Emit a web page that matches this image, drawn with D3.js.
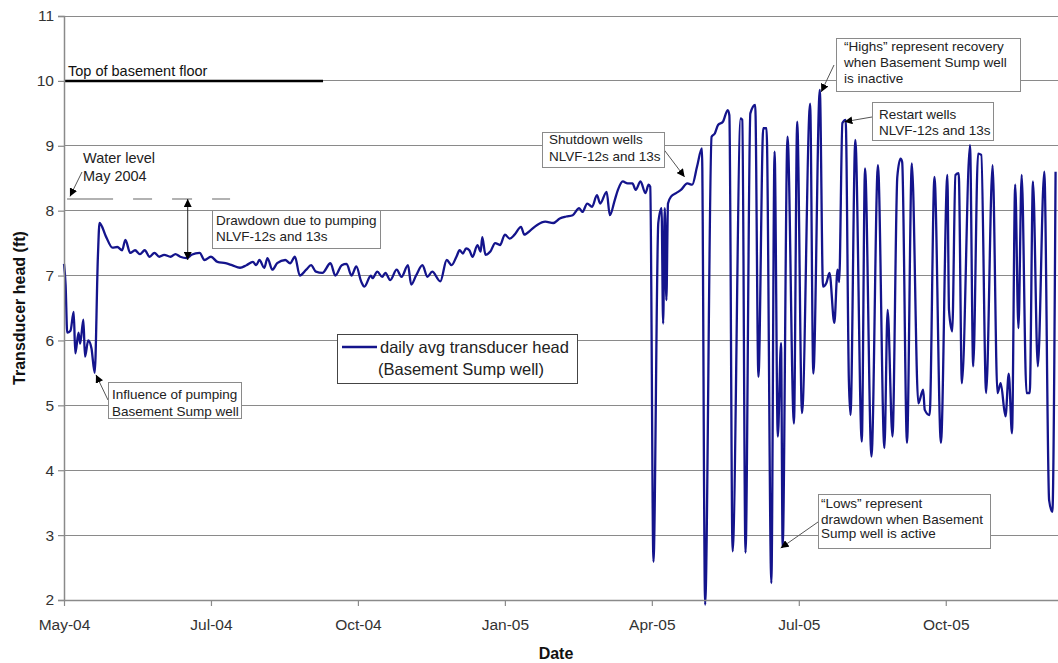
<!DOCTYPE html>
<html><head><meta charset="utf-8">
<script src="https://cdn.jsdelivr.net/npm/d3@7"></script>
<style>
body{margin:0;background:#fff}
svg{display:block;font-family:"Liberation Sans",Arial,sans-serif}
</style>
</head><body>
<svg id="chart" width="1058" height="663"></svg>
<script>
// ---------- data ----------
const startDate = "2004-05-01";           // day 0
const dayOffsets = [
  0,1,2,4,6,7,9,10,12,13,15,17,19,21,22,26,30,33,36,38,41,44,47,50,53,56,59,62,66,69,72,76,79,84,87,91,95,
  100,104,109,113,117,119,121,124,126,129,132,137,140,143,146,150,153,156,160,165,168,172,175,178,181,184,186,
  190,191,194,197,199,202,206,209,213,215,218,222,225,228,233,237,240,243,245,247,249,251,253,256,258,259,261,
  264,267,270,273,276,279,283,285,289,293,298,303,307,311,315,319,321,324,327,330,332,336,338,341,343,346,349,
  352,354,357,360,362,363,365,368,370,371,372,373,374,376,379,382,386,389,392,395,397,401,403,405,408,411,412,
  414,419,420,422,425,428,430,433,435,438,440,442,444,445,448,452,454,457,462,464,468,470,472,474,477,479,480,
  482,484,486,487,490,494,496,500,504,508,510,513,516,518,519,522,525,529,532,533,536,539,543,547,548,550,552,
  554,556,561,563,566,568,571,575,578,580,583,585,587,589,591,593,596,598,600,603,607,610,612,614
];
const headFt = [
  7.18,6.85,6.12,6.15,6.44,5.80,6.12,5.95,6.32,5.75,6.00,5.88,5.50,7.30,7.81,7.60,7.43,7.44,7.39,7.55,7.35,7.39,7.33,7.39,7.29,7.35,7.29,7.32,7.29,7.33,7.29,7.27,7.32,7.35,7.24,7.29,7.21,
  7.19,7.16,7.12,7.16,7.21,7.16,7.24,7.12,7.27,7.09,7.19,7.24,7.19,7.29,7.00,7.09,7.16,7.06,7.04,7.19,7.00,7.16,7.18,7.00,7.14,6.91,6.83,
  7.00,6.96,7.06,6.98,7.04,6.93,7.09,6.98,7.16,6.86,7.00,7.16,6.98,7.06,6.91,7.24,7.16,7.29,7.39,7.34,7.42,7.39,7.29,7.47,7.37,7.59,7.32,
  7.37,7.50,7.47,7.63,7.57,7.63,7.75,7.63,7.70,7.78,7.83,7.81,7.88,7.91,7.93,8.04,7.98,8.11,8.06,8.24,8.11,8.29,7.93,8.16,8.32,8.45,8.42,
  8.42,8.32,8.45,8.27,8.40,8.37,2.59,7.81,8.04,6.26,8.04,6.62,8.11,8.22,8.27,8.32,8.42,8.40,8.68,8.96,1.93,9.14,9.19,9.32,9.37,9.55,9.47,
  2.75,9.42,9.40,2.73,9.50,9.63,5.44,9.27,9.27,2.26,8.91,4.52,5.96,2.82,9.14,4.72,9.37,4.88,9.65,5.49,9.86,6.83,6.88,7.04,6.27,7.09,6.90,
  9.35,9.40,5.39,4.85,9.09,4.44,8.65,4.21,8.70,4.34,6.47,4.52,8.52,8.80,8.75,4.42,8.73,5.03,5.24,4.93,4.85,8.52,4.42,8.55,6.47,6.14,8.55,
  8.58,5.34,9.01,5.60,8.88,8.86,5.19,8.70,5.19,5.34,4.83,5.49,4.57,8.40,6.19,8.55,5.19,5.19,8.45,5.60,8.60,3.54,3.36,8.60
];
const xTickDays = [0, 91, 182, 273, 364, 455, 546];
const yTicks = [2, 3, 4, 5, 6, 7, 8, 9, 10, 11];
const axisEndDay = 615.5;
const basementFloorFt = 10, basementLineDays = [0, 160.4];
const waterLevelFt = 8.18, waterLineDays = [1.9, 103];
const drawdownDay = 76.6, drawdownLowFt = 7.24;
const seriesName = ["daily avg transducer head", "(Basement Sump well)"];

// ---------- setup ----------
const W = 1058, H = 663;
const M = {left: 64, top: 16, right: 0, bottom: 63};
const svg = d3.select("#chart");
const t0 = d3.utcParse("%Y-%m-%d")(startDate);
const dayToDate = d => new Date(t0.getTime() + d * 864e5);

const x = d3.scaleUtc().domain([t0, dayToDate(axisEndDay)]).range([M.left, W - M.right]);
const y = d3.scaleLinear().domain([2, 11]).range([H - M.bottom, M.top]);
const X = d => x(dayToDate(d));

const GRID = "#8a8a8a", NAVY = "#14148c", TXT = "#333";

// arrowhead marker
const defs = svg.append("defs");
defs.append("marker").attr("id", "ah").attr("viewBox", "0 0 10 10")
  .attr("refX", 10).attr("refY", 5).attr("markerWidth", 8).attr("markerHeight", 8)
  .attr("markerUnits", "userSpaceOnUse").attr("orient", "auto-start-reverse")
  .append("path").attr("d", "M0,0 L10,5 L0,10 Z").attr("fill", "#000");

// gridlines
svg.append("g").selectAll("line").data(yTicks.filter(v => v > 2)).join("line")
  .attr("x1", M.left).attr("x2", W).attr("y1", d => y(d)).attr("y2", d => y(d))
  .attr("stroke", GRID).attr("stroke-width", 1).attr("shape-rendering", "crispEdges");

// water level dashed line
svg.append("line")
  .attr("x1", X(waterLineDays[0])).attr("x2", X(waterLineDays[1]))
  .attr("y1", y(waterLevelFt)).attr("y2", y(waterLevelFt))
  .attr("stroke", "#999").attr("stroke-width", 1.3)
  .attr("stroke-dasharray", "46,20,19,20,20,20,18");

// top of basement floor
svg.append("line")
  .attr("x1", X(basementLineDays[0])).attr("x2", X(basementLineDays[1]))
  .attr("y1", y(basementFloorFt)).attr("y2", y(basementFloorFt))
  .attr("stroke", "#000").attr("stroke-width", 2.5);
svg.append("text").attr("x", 68).attr("y", 76).attr("font-size", 14.5).attr("fill", "#111")
  .text("Top of basement floor");

// data line
const pts = dayOffsets.map((d, i) => [d, headFt[i]]);
svg.append("path").datum(pts)
  .attr("fill", "none").attr("stroke", NAVY).attr("stroke-width", 2.3).attr("stroke-linejoin", "round")
  .attr("d", d3.line().curve(d3.curveMonotoneX).x(p => X(p[0])).y(p => y(p[1])));

// axes
const yAxis = svg.append("g").attr("transform", `translate(${M.left},0)`)
  .call(d3.axisLeft(y).tickValues(yTicks).tickSize(6).tickPadding(4).tickFormat(d3.format("d")));
const xAxis = svg.append("g").attr("transform", `translate(0,${y(2)})`)
  .call(d3.axisBottom(x).tickValues(xTickDays.map(dayToDate)).tickSize(6).tickPadding(13)
    .tickFormat(d3.utcFormat("%b-%y")));
xAxis.select(".domain").attr("d", `M${M.left},0.5H${W}`);
[yAxis, xAxis].forEach(g => {
  g.select(".domain").attr("stroke", GRID).attr("stroke-width", 1.5);
  g.selectAll(".tick line").attr("stroke", GRID).attr("stroke-width", 1.2);
  g.selectAll("text").attr("fill", TXT).attr("font-size", 15.5)
    .attr("font-family", '"Liberation Sans",Arial,sans-serif');
});

// axis titles
svg.append("text").attr("x", (M.left + W) / 2 - 5).attr("y", 659).attr("text-anchor", "middle")
  .attr("font-weight", "bold").attr("font-size", 16).attr("fill", "#111").text("Date");
svg.append("text").attr("transform", "translate(25,308) rotate(-90)").attr("text-anchor", "middle")
  .attr("font-weight", "bold").attr("font-size", 16).attr("fill", "#111").text("Transducer head (ft)");

// drawdown double arrow
svg.append("line").attr("x1", X(drawdownDay)).attr("x2", X(drawdownDay))
  .attr("y1", y(waterLevelFt)).attr("y2", y(drawdownLowFt))
  .attr("stroke", "#222").attr("stroke-width", 1)
  .attr("marker-start", "url(#ah)").attr("marker-end", "url(#ah)");

// annotation helpers
function arrow(x1, y1, x2, y2) {
  svg.append("line").attr("x1", x1).attr("y1", y1).attr("x2", x2).attr("y2", y2)
    .attr("stroke", "#555").attr("stroke-width", 1).attr("marker-end", "url(#ah)");
}
function box(x0, y0, w, h, lines, tx, baselines, fs) {
  svg.append("rect").attr("x", x0 + 0.5).attr("y", y0 + 0.5).attr("width", w).attr("height", h)
    .attr("fill", "#fff").attr("stroke", "#8a8a8a").attr("stroke-width", 1);
  lines.forEach((t, i) => svg.append("text").attr("x", tx).attr("y", baselines[i])
    .attr("font-size", fs || 13.5).attr("fill", "#222").text(t));
}

// Water level label
svg.append("text").attr("x", 83).attr("y", 163).attr("font-size", 14.5).attr("fill", "#222").text("Water level");
svg.append("text").attr("x", 83).attr("y", 181).attr("font-size", 14.5).attr("fill", "#222").text("May 2004");
arrow(82, 172, X(3.7), y(8.22));

// Drawdown box
box(212, 210, 168, 38, ["Drawdown due to pumping", "NLVF-12s and 13s"], 216, [225, 241]);

// Influence box
arrow(108, 400, X(19.8), y(5.47));
box(108, 382, 133, 36, ["Influence of pumping", "Basement Sump well"], 112, [399, 416]);

// Shutdown box
arrow(662, 147, X(384.3), y(8.52));
box(542, 132, 122, 35, ["Shutdown wells", "NLVF-12s and 13s"], 549, [144, 161]);

// Highs box
arrow(834, 65, X(468.9), y(9.83));
box(836, 38, 184, 53, ["\u201cHighs\u201d represent recovery", "when Basement Sump well", "is inactive"], 844, [51, 67, 83]);

// Restart box
arrow(872, 117, X(483.2), y(9.37));
box(872, 102, 121, 38, ["Restart wells", "NLVF-12s and 13s"], 879, [119, 135]);

// Lows box
arrow(818, 522, X(443.8), y(2.8));
box(818, 494, 172, 54, ["\u201cLows\u201d represent", "drawdown when Basement", "Sump well is active"], 821, [508, 524, 538]);

// legend
svg.append("rect").attr("x", 337.5).attr("y", 334.5).attr("width", 240).attr("height", 49)
  .attr("fill", "#fff").attr("stroke", "#444").attr("stroke-width", 1);
svg.append("line").attr("x1", 342).attr("x2", 377).attr("y1", 347).attr("y2", 347)
  .attr("stroke", NAVY).attr("stroke-width", 2.3);
svg.append("text").attr("x", 380).attr("y", 353).attr("font-size", 16.5).attr("fill", "#222").text(seriesName[0]);
svg.append("text").attr("x", 378).attr("y", 375).attr("font-size", 16.5).attr("fill", "#222").text(seriesName[1]);
</script>
</body></html>
